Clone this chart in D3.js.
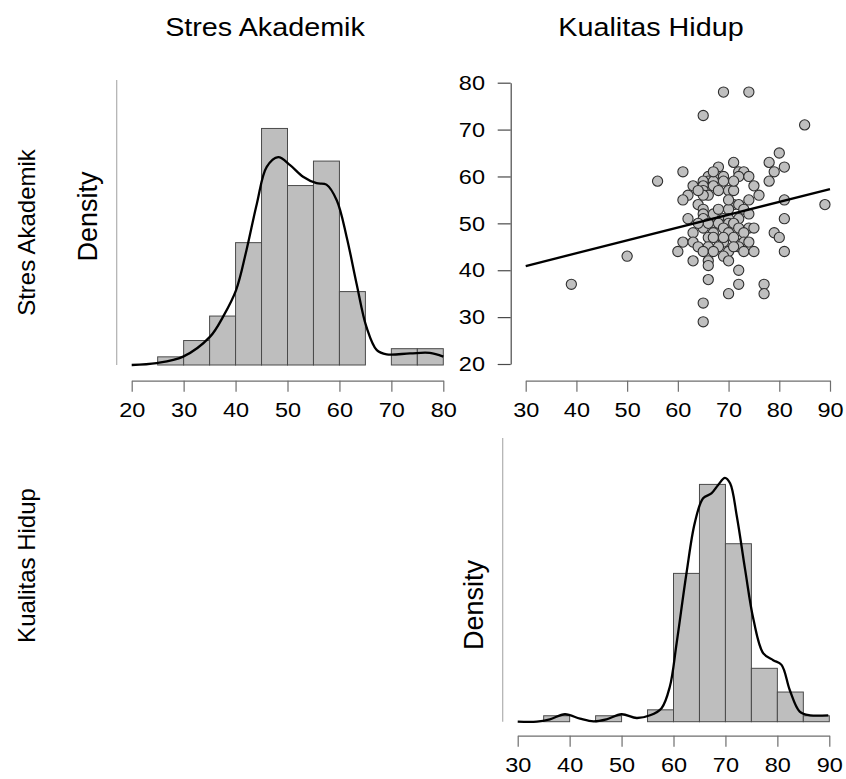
<!DOCTYPE html>
<html>
<head>
<meta charset="utf-8">
<script src="https://cdn.jsdelivr.net/npm/d3@7/dist/d3.min.js"></script>
<style>
  html, body { margin: 0; padding: 0; background: #fff; }
  svg { display: block; }
  text { font-family: "Liberation Sans", Arial, Helvetica, sans-serif; fill: #000; }
</style>
</head>
<body>
<svg id="chart" width="846" height="779"></svg>
<script>
// ---------------- DATA ----------------
const variables = ["Stres Akademik", "Kualitas Hidup"];

// Histogram of Stres Akademik (bin width 5)
const stresBinStart = [25, 30, 35, 40, 45, 50, 55, 60, 65, 70, 75];
const stresCounts   = [ 1,  3,  6, 15, 29, 22, 25,  9,  0,  2,  2];
const stresTicks = [20, 30, 40, 50, 60, 70, 80];

// Density curve of Stres Akademik (x, density)
const stresDensX = [20, 24.8, 29.9, 35.1, 37.6, 40.1, 42.1, 44.1, 46.0, 48.2, 50.5, 53.0, 55.6, 57.5, 59.5, 61.4, 63.3, 65.2, 67.2, 69.1, 73.6, 77.4, 80];
const stresDensY = [0.0000, 0.0004, 0.0018, 0.0061, 0.0104, 0.0161, 0.0247, 0.0347, 0.0426, 0.0447, 0.0430, 0.0405, 0.0391, 0.0388, 0.0354, 0.0275, 0.0175, 0.0082, 0.0032, 0.0023, 0.0025, 0.0026, 0.0018];

// Histogram of Kualitas Hidup (bin width 5)
const kualBinStart = [35, 40, 45, 50, 55, 60, 65, 70, 75, 80, 85];
const kualCounts   = [ 1,  0,  1,  0,  2, 25, 40, 30,  9,  5,  1];
const kualTicks = [30, 40, 50, 60, 70, 80, 90];

// Density curve of Kualitas Hidup (x, density)
const kualDensX = [30, 33.7, 36.2, 39.1, 42.0, 44.6, 47.1, 50.0, 52.9, 55.5, 57.7, 59.3, 60.6, 62.5, 64.1, 65.7, 67.3, 68.6, 69.9, 70.9, 72.2, 73.8, 75.4, 77.3, 79.2, 80.8, 82.4, 84.3, 86.3, 89.8];
const kualDensY = [0.0000, 0.0000, 0.0007, 0.0022, 0.0009, 0.0001, 0.0007, 0.0022, 0.0011, 0.0019, 0.0040, 0.0104, 0.0232, 0.0439, 0.0588, 0.0661, 0.0675, 0.0700, 0.0721, 0.0705, 0.0607, 0.0449, 0.0302, 0.0202, 0.0182, 0.0168, 0.0093, 0.0030, 0.0019, 0.0019];

// Scatter: x = Kualitas Hidup, y = Stres Akademik
const scatterKualitas = [69,74,65,85,80,71,78,68,81,61,72,73,79,68,69,72,74,66,56,66,69,78,65,67,63,65,75,70,71,65,67,62,66,76,65,61,81,89,64,71,72,65,70,73,67,74,65,62,65,69,70,81,72,67,70,68,71,69,74,75,65,72,63,67,70,79,73,66,67,80,71,61,63,73,74,69,64,68,72,66,60,65,73,75,81,70,50,69,63,66,70,66,72,66,39,72,77,70,77,65,65,64,70,68,66,71,67,68,74,64,69,67,71];
const scatterStres    = [78,78,73,71,65,63,63,62,62,61,61,61,61,60,60,60,60,60,59,59,59,59,59,59,58,58,58,57,57,57,58,56,56,56,56,55,55,54,54,54,54,53,53,53,52,52,52,51,51,51,51,51,51,50,50,50,50,49,49,49,49,49,48,48,48,48,48,47,47,47,47,46,46,46,46,46,45,45,45,45,44,44,44,44,44,44,43,43,42,42,42,41,40,38,37,37,37,35,35,33,29,57,55,53,50,59,61,57,55,50,47,44,45];
const scatterTicksX = [30, 40, 50, 60, 70, 80, 90];
const scatterTicksY = [20, 30, 40, 50, 60, 70, 80];

// Regression line (fitted) end points
const fitX = [30, 90];
const fitY = [40.9, 57.3];

// ---------------- DRAW ----------------
const svg = d3.select("#chart");
svg.append("rect").attr("width", 846).attr("height", 779).attr("fill", "#fff");

const TICK_FONT = 21, TICK_SX = 1.12;
const barFill = "#bebebe", barStroke = "#4a4a4a";
const axisCol = "#6e6e6e";

const nStres = d3.sum(stresCounts);
const nKual = d3.sum(kualCounts);
const binW = 5;

function styleAxis(g, col) {
  g.select(".domain").attr("stroke", col).attr("stroke-width", 1.2);
  g.selectAll(".tick line").attr("stroke", col).attr("stroke-width", 1.2);
  g.selectAll(".tick text")
    .attr("font-size", TICK_FONT)
    .attr("fill", "#000")
    .attr("font-family", "Liberation Sans, Arial, sans-serif");
}

function bottomAxis(scale, ticks, y) {
  const g = svg.append("g").attr("transform", `translate(0,${y})`)
    .call(d3.axisBottom(scale).tickValues(ticks).tickSize(11).tickSizeOuter(0).tickPadding(10).tickFormat(d3.format("d")));
  styleAxis(g, axisCol);
  g.selectAll(".tick text").attr("transform", `scale(${TICK_SX},1)`);
  return g;
}

// ---- Panel 1: histogram Stres Akademik ----
const x1 = d3.scaleLinear().domain([20, 80]).range([131.7, 443.3]);
const y1 = d3.scaleLinear().domain([0, 0.0613]).range([365, 80]);

svg.append("g").selectAll("rect")
  .data(stresBinStart.map((b, i) => ({ b, c: stresCounts[i] })).filter(d => d.c > 0))
  .join("rect")
  .attr("x", d => x1(d.b))
  .attr("width", d => x1(d.b + binW) - x1(d.b))
  .attr("y", d => y1(d.c / (nStres * binW)))
  .attr("height", d => y1(0) - y1(d.c / (nStres * binW)))
  .attr("fill", barFill).attr("stroke", barStroke).attr("stroke-width", 1);

svg.append("path")
  .datum(stresDensX.map((x, i) => [x, stresDensY[i]]))
  .attr("d", d3.line().x(d => x1(d[0])).y(d => y1(d[1])).curve(d3.curveCatmullRom.alpha(0.5)))
  .attr("fill", "none").attr("stroke", "#000").attr("stroke-width", 2.3);

svg.append("line")
  .attr("x1", 116.7).attr("x2", 116.7)
  .attr("y1", y1.range()[1]).attr("y2", y1.range()[0])
  .attr("stroke", "#b0b0b0").attr("stroke-width", 1.2);

bottomAxis(x1, stresTicks, 380.7);

// ---- Panel 2: scatter ----
const xs = d3.scaleLinear().domain([30, 90]).range([525.7, 830]);
const ys = d3.scaleLinear().domain([20, 80]).range([364, 82.7]);

svg.append("g").selectAll("circle")
  .data(scatterKualitas.map((x, i) => [x, scatterStres[i]]))
  .join("circle")
  .attr("cx", d => xs(d[0]))
  .attr("cy", d => ys(d[1]))
  .attr("r", 5.1)
  .attr("fill", "#bfbfbf")
  .attr("stroke", "#2e2e2e")
  .attr("stroke-width", 1.1);

svg.append("path")
  .datum(fitX.map((x, i) => [x, fitY[i]]))
  .attr("d", d3.line().x(d => xs(d[0])).y(d => ys(d[1])))
  .attr("stroke", "#000").attr("stroke-width", 2.3).attr("fill", "none");

bottomAxis(xs, scatterTicksX, 380.7);

const gy = svg.append("g").attr("transform", "translate(510.7,0)")
  .call(d3.axisLeft(ys).tickValues(scatterTicksY).tickSize(13).tickSizeOuter(0).tickPadding(12).tickFormat(d3.format("d")));
styleAxis(gy, "#4a4a4a");
gy.selectAll(".tick text")
  .attr("x", -25.7 / TICK_SX)
  .attr("transform", `scale(${TICK_SX},1)`);

// ---- Panel 4: histogram Kualitas Hidup ----
const x4 = d3.scaleLinear().domain([30, 90]).range([517.7, 829.3]);
const y4 = d3.scaleLinear().domain([0, 0.0839]).range([721.7, 438]);

svg.append("g").selectAll("rect")
  .data(kualBinStart.map((b, i) => ({ b, c: kualCounts[i] })).filter(d => d.c > 0))
  .join("rect")
  .attr("x", d => x4(d.b))
  .attr("width", d => x4(d.b + binW) - x4(d.b))
  .attr("y", d => y4(d.c / (nKual * binW)))
  .attr("height", d => y4(0) - y4(d.c / (nKual * binW)))
  .attr("fill", barFill).attr("stroke", barStroke).attr("stroke-width", 1);

svg.append("path")
  .datum(kualDensX.map((x, i) => [x, kualDensY[i]]))
  .attr("d", d3.line().x(d => x4(d[0])).y(d => y4(d[1])).curve(d3.curveCatmullRom.alpha(0.5)))
  .attr("fill", "none").attr("stroke", "#000").attr("stroke-width", 2.3);

svg.append("line")
  .attr("x1", 502.7).attr("x2", 502.7)
  .attr("y1", y4.range()[1]).attr("y2", y4.range()[0])
  .attr("stroke", "#b0b0b0").attr("stroke-width", 1.2);

bottomAxis(x4, kualTicks, 735.7);

// ---- Titles and labels ----
function hText(txt, cx, baseline, size, sx) {
  svg.append("g").attr("transform", `translate(${cx},${baseline}) scale(${sx},1)`)
    .append("text").attr("text-anchor", "middle").attr("font-size", size).text(txt);
}
function vText(txt, baselineX, cy, size) {
  svg.append("text")
    .attr("transform", `translate(${baselineX},${cy}) rotate(-90)`)
    .attr("text-anchor", "middle").attr("font-size", size).text(txt);
}

hText(variables[0], 265, 36, 25, 1.15);
hText(variables[1], 651, 36, 25, 1.15);

vText(variables[0], 35, 232.5, 24);
vText(variables[1], 35, 565.5, 24);

vText("Density", 96.5, 216.5, 27);
vText("Density", 483, 605, 27);
</script>
</body>
</html>
